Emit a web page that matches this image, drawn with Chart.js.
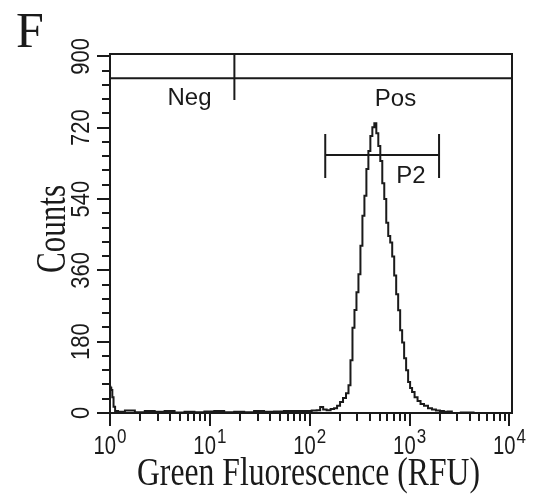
<!DOCTYPE html>
<html><head><meta charset="utf-8">
<script src="https://cdn.jsdelivr.net/npm/chart.js@4.4.0/dist/chart.umd.min.js"></script>
<style>html,body{margin:0;padding:0;background:#fff;}#wrap{width:534px;height:494px;}</style>
</head><body><div id="wrap"><canvas id="c" width="534" height="494"></canvas></div>
<script>
// ---- data ----
const fluorescence = [1.00,1.02,1.04,1.07,1.10,1.15,1.26,1.58,1.99,2.5,3.14,3.95,4.97,6.25,7.86,9.88,12.4,15.6,19.7,24.7,31.1,39.1,49.2,61.8,77.7,97.7,112,
  122.9,131.6,141.1,154.5,169.4,181.4,194.4,208.2,223.0,238.9,250.0,261.8,274.1,287.0,300.4,314.6,329.3,344.8,360.9,377.8,395.5,414.0,433.4,453.7,
  475.0,497.2,520.6,544.9,570.5,597.2,625.2,654.5,685.1,717.3,750.9,786.1,822.9,861.5,901.9,944.3,988.6,1035,1083,1161,1243,1332,1460,1600,1753,1921,
  2106,2308,2529,2772,3820,5000,10600];
const counts = [66,64,58,40,16,5,3,6,2,5,3,5,1,3,2,4,5,2,3,2,5,3,4,5,5,5,6,
  7,15,9,7,10,12,18,28,38,50,70,133,215,260,305,350,422,498,548,616,661,699,721,731,
  706,674,636,580,540,480,447,430,395,347,300,259,209,178,138,108,78,63,53,40,30,23,18,12,9,6,
  5,3,4,0,1,0,0];
const yMajorTicks = [0,180,360,540,720,900];
const yMinorTicks = [36,72,108,144,216,252,288,324,396,432,468,504,576,612,648,684,756,792,828,864];
const xMajorTicks = [1,10,100,1000,10000];
const xExponents = ['0','1','2','3','4'];
const xMinorMultipliers = [2,3,4,5,6,7,8,9];
// gates (data coordinates)
const negPosLevel = 845;
const negPosDivider = 17.6;
const negPosDividerBottom = 790;
const p2Range = [143, 1972];
const p2Level = 651;
const p2CapRange = [593, 704];
const gateLabels = ['Neg','Pos','P2'];

const INK = '#1a1a1a';
function txt(ctx, s, x, y, o) {
  ctx.save();
  ctx.translate(x, y);
  ctx.rotate(o.rot || 0);
  ctx.font = o.font;
  let sx = o.sx || 1;
  if (o.fitWidth) sx = o.fitWidth / ctx.measureText(s).width;
  ctx.scale(sx, o.sy || 1);
  ctx.textAlign = o.align || 'center';
  ctx.textBaseline = o.baseline || 'alphabetic';
  ctx.fillStyle = INK;
  ctx.fillText(s, 0, 0);
  ctx.restore();
}

const decor = {
  id: 'decor',
  afterDatasetsDraw(chart) {
    const ctx = chart.ctx, a = chart.chartArea;
    const xs = chart.scales.x, ys = chart.scales.y;
    ctx.save();
    ctx.strokeStyle = INK; ctx.lineWidth = 2; ctx.lineCap = 'butt';
    ctx.strokeRect(a.left, a.top, a.right - a.left, a.bottom - a.top);
    ctx.beginPath();
    yMajorTicks.forEach(v => { const p = Math.round(ys.getPixelForValue(v)); ctx.moveTo(a.left - 13, p); ctx.lineTo(a.left, p); });
    yMinorTicks.forEach(v => { const p = Math.round(ys.getPixelForValue(v)); ctx.moveTo(a.left - 8, p); ctx.lineTo(a.left, p); });
    xMajorTicks.forEach(v => { const p = Math.round(xs.getPixelForValue(v)); ctx.moveTo(p, a.bottom); ctx.lineTo(p, a.bottom + 13); });
    xMajorTicks.slice(0, -1).forEach(d => xMinorMultipliers.forEach(m => {
      const p = Math.round(xs.getPixelForValue(d * m)); ctx.moveTo(p, a.bottom); ctx.lineTo(p, a.bottom + 8);
    }));
    const gy = ys.getPixelForValue(negPosLevel);
    ctx.moveTo(a.left, gy); ctx.lineTo(a.right, gy);
    const dx = xs.getPixelForValue(negPosDivider);
    ctx.moveTo(dx, a.top); ctx.lineTo(dx, ys.getPixelForValue(negPosDividerBottom));
    const p2y = ys.getPixelForValue(p2Level);
    const p2a = xs.getPixelForValue(p2Range[0]), p2b = xs.getPixelForValue(p2Range[1]);
    ctx.moveTo(p2a, p2y); ctx.lineTo(p2b, p2y);
    [p2a, p2b].forEach(x => { ctx.moveTo(x, ys.getPixelForValue(p2CapRange[0])); ctx.lineTo(x, ys.getPixelForValue(p2CapRange[1])); });
    ctx.stroke();
    ctx.restore();

    yMajorTicks.forEach(v => txt(ctx, String(v), 89, ys.getPixelForValue(v), {font: '25px "Liberation Sans"', rot: -Math.PI / 2, sx: 0.88}));
    xMajorTicks.forEach((v, i) => {
      const p = xs.getPixelForValue(v);
      ctx.font = '26px "Liberation Sans"'; const w1 = ctx.measureText('10').width * 0.78;
      ctx.font = '20px "Liberation Sans"'; const w2 = ctx.measureText(xExponents[i]).width * 0.85;
      const start = p - (w1 + w2 + 1) / 2;
      txt(ctx, '10', start, 454, {font: '26px "Liberation Sans"', align: 'left', sx: 0.78});
      txt(ctx, xExponents[i], start + w1 + 1, 443, {font: '20px "Liberation Sans"', align: 'left', sx: 0.85});
    });
    txt(ctx, gateLabels[0], 189.5, 105, {font: '24px "Liberation Sans"'});
    txt(ctx, gateLabels[1], 395.5, 106, {font: '24px "Liberation Sans"'});
    txt(ctx, gateLabels[2], 411, 183, {font: '24px "Liberation Sans"'});
    txt(ctx, 'F', 16, 47, {font: '50px "Liberation Serif"', align: 'left'});
    txt(ctx, 'Counts', 65, 229, {font: '32px "Liberation Serif"', rot: -Math.PI / 2, fitWidth: 88, sy: 1.3});
    txt(ctx, 'Green Fluorescence (RFU)', 308.5, 485, {font: '32px "Liberation Serif"', fitWidth: 343, sy: 1.25});
  }
};

new Chart(document.getElementById('c'), {
  type: 'scatter',
  data: {
    datasets: [{
      data: fluorescence.map((x, i) => ({x, y: counts[i]})),
      showLine: true, stepped: 'middle', borderColor: INK, borderWidth: 2,
      pointRadius: 0, fill: false
    }]
  },
  options: {
    responsive: false, animation: false, devicePixelRatio: 1,
    layout: {padding: {left: 110, right: 22, top: 54, bottom: 81}},
    plugins: {legend: {display: false}, tooltip: {enabled: false}},
    scales: {
      x: {type: 'logarithmic', min: 1, max: 10600, display: false},
      y: {type: 'linear', min: 0, max: 906, display: false}
    }
  },
  plugins: [decor]
});
</script></body></html>
